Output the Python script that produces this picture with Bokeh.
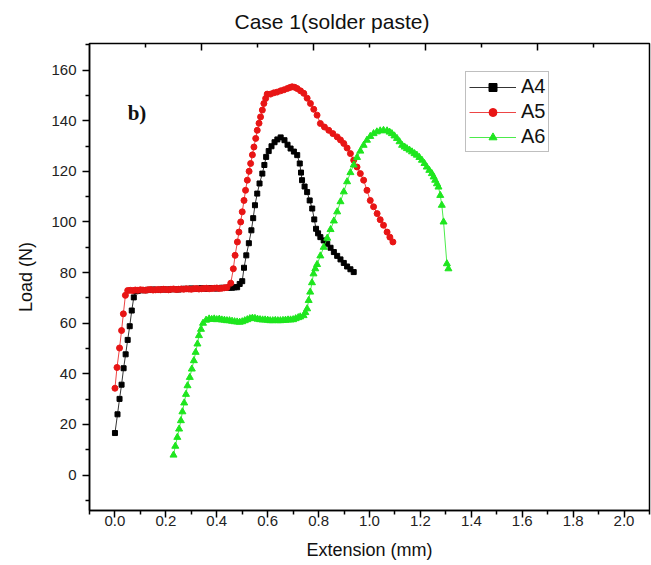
from bokeh.plotting import figure
from bokeh.models import (Range1d, FixedTicker, Legend, LegendItem,
                          Label, NumeralTickFormatter)
from bokeh.embed import file_html
from bokeh.resources import INLINE

# ---------------- data ----------------
A4_pts = [
    (0.000, 16.6), (0.010, 24.0), (0.018, 30.1), (0.026, 35.7), (0.034, 42.2),
    (0.042, 47.7), (0.050, 53.4), (0.058, 58.8), (0.066, 65.0), (0.074, 70.2),
    (0.082, 72.6),
    (0.09, 72.8), (0.10, 73.0), (0.11, 73.1), (0.12, 73.0), (0.13, 73.2),
    (0.14, 73.1), (0.15, 73.3), (0.16, 73.2), (0.17, 73.1), (0.18, 73.3),
    (0.19, 73.4), (0.20, 73.3), (0.21, 73.2), (0.22, 73.4), (0.23, 73.5),
    (0.24, 73.4), (0.25, 73.3), (0.26, 73.5), (0.27, 73.6), (0.28, 73.5),
    (0.29, 73.6), (0.30, 73.7), (0.31, 73.6), (0.32, 73.5), (0.33, 73.7),
    (0.34, 73.8), (0.35, 73.7), (0.36, 73.6), (0.37, 73.8), (0.38, 73.9),
    (0.39, 73.8), (0.40, 73.7), (0.41, 73.9), (0.42, 74.0), (0.43, 73.9),
    (0.44, 74.0), (0.45, 74.1), (0.46, 74.0), (0.47, 74.2), (0.48, 74.2),
    (0.490, 75.5), (0.500, 76.6), (0.507, 81.9), (0.516, 86.8), (0.526, 91.6),
    (0.536, 96.7), (0.543, 101.5), (0.550, 106.6), (0.559, 111.2), (0.568, 115.2),
    (0.579, 119.1), (0.587, 122.5), (0.594, 125.7), (0.604, 128.0), (0.615, 129.9),
    (0.627, 131.5), (0.638, 132.6), (0.651, 133.4), (0.666, 132.3), (0.678, 130.5),
    (0.690, 129.0), (0.703, 127.8), (0.716, 126.4), (0.726, 123.1), (0.731, 119.5),
    (0.735, 116.5), (0.745, 114.0), (0.755, 111.8), (0.765, 108.5), (0.775, 105.3),
    (0.783, 101.0), (0.790, 97.3), (0.798, 95.5), (0.807, 94.0), (0.820, 92.7),
    (0.834, 91.4), (0.847, 89.8), (0.860, 88.1), (0.873, 86.6), (0.886, 85.2),
    (0.899, 83.8), (0.912, 82.4), (0.925, 81.3), (0.938, 80.2),
]

A5_pts = [
    (0.000, 34.3), (0.008, 42.5), (0.018, 50.2), (0.026, 57.1), (0.033, 63.7),
    (0.041, 71.0), (0.050, 72.9),
    (0.06, 73.0), (0.07, 72.9), (0.08, 73.1), (0.09, 73.0), (0.10, 73.2),
    (0.11, 73.1), (0.12, 73.0), (0.13, 73.2), (0.14, 73.3), (0.15, 73.1),
    (0.16, 73.2), (0.17, 73.3), (0.18, 73.2), (0.19, 73.4), (0.20, 73.3),
    (0.21, 73.2), (0.22, 73.4), (0.23, 73.5), (0.24, 73.3), (0.25, 73.4),
    (0.26, 73.5), (0.27, 73.4), (0.28, 73.6), (0.29, 73.5), (0.30, 73.4),
    (0.31, 73.6), (0.32, 73.7), (0.33, 73.5), (0.34, 73.6), (0.35, 73.7),
    (0.36, 73.8), (0.37, 73.6), (0.38, 73.7), (0.39, 73.8), (0.40, 73.9),
    (0.41, 73.7), (0.42, 73.8), (0.43, 74.0), (0.44, 74.1),
    (0.455, 75.8), (0.465, 81.5), (0.472, 86.8), (0.481, 92.1), (0.487, 96.0),
    (0.494, 100.0), (0.500, 104.0), (0.507, 108.5), (0.513, 112.5), (0.520, 116.5),
    (0.527, 120.0), (0.533, 123.1), (0.540, 126.5), (0.546, 129.6), (0.553, 133.0),
    (0.559, 136.2), (0.566, 139.0), (0.572, 141.5), (0.579, 144.2), (0.585, 146.8),
    (0.592, 148.8), (0.598, 150.5), (0.611, 150.5), (0.624, 151.0), (0.637, 151.3),
    (0.651, 151.8), (0.664, 152.2), (0.677, 152.7), (0.687, 153.1), (0.696, 153.4),
    (0.706, 153.2), (0.716, 152.7), (0.729, 151.8), (0.742, 150.8), (0.755, 148.9),
    (0.768, 146.8), (0.781, 144.5), (0.794, 142.2), (0.807, 138.9), (0.823, 137.5),
    (0.840, 136.2), (0.856, 134.9), (0.873, 133.6), (0.886, 132.4), (0.899, 131.0),
    (0.912, 129.2), (0.925, 127.0), (0.938, 124.4), (0.951, 121.7), (0.964, 119.1),
    (0.977, 116.5), (0.990, 112.5), (1.003, 108.5), (1.016, 106.0), (1.030, 103.3),
    (1.042, 100.9), (1.055, 98.7), (1.069, 96.0), (1.080, 94.0), (1.092, 92.1),
]

A6_pts = [
    (0.230, 7.9), (0.237, 11.4), (0.245, 14.9), (0.252, 18.2), (0.259, 21.5),
    (0.265, 25.0), (0.272, 28.5), (0.279, 31.9), (0.285, 35.3), (0.294, 38.6),
    (0.302, 41.9), (0.310, 45.2), (0.317, 48.5), (0.324, 51.8), (0.330, 55.1),
    (0.338, 57.6), (0.346, 60.0), (0.358, 61.2), (0.370, 61.7),
    (0.38, 61.5), (0.39, 61.7), (0.40, 61.4), (0.41, 61.6), (0.42, 61.3),
    (0.43, 61.2), (0.44, 61.0), (0.45, 61.0), (0.46, 60.8), (0.47, 60.6),
    (0.48, 60.5), (0.49, 60.4), (0.50, 60.6), (0.51, 61.0), (0.52, 61.4),
    (0.53, 61.8), (0.54, 62.0), (0.55, 61.9), (0.56, 61.6), (0.57, 61.4),
    (0.58, 61.3), (0.59, 61.3), (0.60, 61.2), (0.61, 61.0), (0.62, 61.0),
    (0.63, 61.1), (0.64, 61.0), (0.65, 61.0), (0.66, 61.1), (0.67, 61.2),
    (0.68, 61.3), (0.69, 61.3), (0.70, 61.4), (0.71, 61.8), (0.72, 62.2),
    (0.728, 62.5), (0.741, 63.0), (0.748, 64.2), (0.755, 65.7), (0.761, 69.0),
    (0.767, 72.3), (0.774, 76.0), (0.780, 79.5), (0.787, 81.5), (0.794, 83.2),
    (0.807, 86.6), (0.820, 90.0), (0.834, 93.6), (0.847, 97.0), (0.860, 100.4),
    (0.873, 104.0), (0.886, 108.0), (0.899, 111.9), (0.912, 115.9), (0.925, 119.5),
    (0.938, 122.5), (0.951, 125.5), (0.964, 128.0), (0.977, 130.3), (0.990, 132.3),
    (1.003, 133.8), (1.016, 134.9), (1.029, 135.6), (1.042, 136.0), (1.055, 136.2),
    (1.069, 136.0), (1.079, 135.5), (1.088, 134.9), (1.098, 134.0), (1.108, 133.0),
    (1.118, 131.7), (1.128, 130.3), (1.138, 129.6), (1.147, 129.0), (1.157, 128.4),
    (1.167, 127.7), (1.177, 127.0), (1.186, 126.4), (1.196, 125.5), (1.206, 124.4),
    (1.216, 123.1), (1.225, 121.7), (1.235, 120.4), (1.245, 119.1), (1.252, 117.8),
    (1.258, 116.5), (1.265, 115.1), (1.271, 113.8), (1.278, 110.5), (1.284, 106.6),
    (1.291, 100.0), (1.304, 83.5), (1.310, 81.5),
]

A4_x, A4_y = [q[0] for q in A4_pts], [q[1] for q in A4_pts]
A5_x, A5_y = [q[0] for q in A5_pts], [q[1] for q in A5_pts]
A6_x, A6_y = [q[0] for q in A6_pts], [q[1] for q in A6_pts]

series_names = ["A4", "A5", "A6"]
x_ticks = [0.0, 0.2, 0.4, 0.6, 0.8, 1.0, 1.2, 1.4, 1.6, 1.8, 2.0]
x_minor = [-0.1, 0.1, 0.3, 0.5, 0.7, 0.9, 1.1, 1.3, 1.5, 1.7, 1.9, 2.1]
y_ticks = [0, 20, 40, 60, 80, 100, 120, 140, 160]
y_minor = [-10, 10, 30, 50, 70, 90, 110, 130, 150, 170]
# the top frame edge carries its own (unlabelled) tick scale 0..5
top_major = [1, 2, 3, 4]
top_minor = [0.5, 1.5, 2.5, 3.5, 4.5]

FONT = "Liberation Sans"
X0, X1 = -0.1, 2.1
Y0, Y1 = -14, 170.5
FRAME_H = 467

# ---------------- figure ----------------
p = figure(width=651, height=565, output_backend="svg", toolbar_location=None,
           x_range=Range1d(X0, X1), y_range=Range1d(Y0, Y1),
           min_border_left=89, min_border_right=2, min_border_top=43,
           min_border_bottom=55)
p.xgrid.visible = False
p.ygrid.visible = False
p.outline_line_color = "black"
p.outline_line_width = 1.5
p.background_fill_color = "white"
p.border_fill_color = "white"

p.title.text = "Case 1(solder paste)"
p.title.align = "left"
p.title.offset = 145
p.title.vertical_align = "top"
p.title.standoff = 18
p.title.text_font = FONT
p.title.text_font_size = "21px"
p.title.text_font_style = "normal"
p.title.text_color = "#111111"

xa = p.xaxis[0]
xa.ticker = FixedTicker(ticks=x_ticks, minor_ticks=x_minor)
xa.formatter = NumeralTickFormatter(format="0.0")
xa.axis_label = "Extension (mm)"
ya = p.yaxis[0]
ya.ticker = FixedTicker(ticks=y_ticks, minor_ticks=y_minor)
ya.axis_label = "Load (N)"

for ax in (xa, ya):
    ax.axis_line_width = 1.5
    ax.axis_line_color = "black"
    ax.major_tick_line_width = 1.5
    ax.minor_tick_line_width = 1.5
    ax.major_tick_line_color = "black"
    ax.minor_tick_line_color = "black"
    ax.major_tick_in = 0
    ax.minor_tick_in = 0
    ax.major_tick_out = 7
    ax.minor_tick_out = 4
    ax.major_label_text_font = FONT
    ax.major_label_text_font_size = "15px"
    ax.major_label_text_color = "#222222"
    ax.axis_label_text_font = FONT
    ax.axis_label_text_font_size = "18px"
    ax.axis_label_text_font_style = "normal"
    ax.axis_label_text_color = "#111111"

xa.major_label_standoff = -2
xa.axis_label_standoff = 11
ya.major_label_standoff = 6
ya.axis_label_standoff = 12

# inward ticks on the top edge
p.extra_x_ranges = {"top": Range1d(0, 5)}
px_per_y = FRAME_H / (Y1 - Y0)
p.segment(x0=top_major, x1=top_major, y0=[Y1] * len(top_major),
          y1=[Y1 - 7 / px_per_y] * len(top_major), x_range_name="top",
          line_color="black", line_width=1.5)
p.segment(x0=top_minor, x1=top_minor, y0=[Y1] * len(top_minor),
          y1=[Y1 - 4 / px_per_y] * len(top_minor), x_range_name="top",
          line_color="black", line_width=1.5)

# ---------------- series ----------------
colors = ["black", "#e81515", "#1ee61e"]
markers = ["square", "circle", "triangle"]
sizes = [5, 6, 7]
data = [(A4_x, A4_y), (A5_x, A5_y), (A6_x, A6_y)]

items = []
for name, (xs, ys), c, m, s in zip(series_names, data, colors, markers, sizes):
    ln = p.line(xs, ys, line_color=c, line_width=0.8)
    sc = p.scatter(xs, ys, marker=m, size=s, fill_color=c, line_color=c)
    items.append(LegendItem(label=name, renderers=[ln, sc]))

legend = Legend(items=items, location=(376, 358), orientation="vertical",
                border_line_color="#808080", border_line_width=1.2,
                background_fill_color="white", background_fill_alpha=1,
                padding=3, spacing=2, margin=0,
                glyph_width=47, glyph_height=20, label_height=20,
                label_standoff=5, label_text_font=FONT,
                label_text_font_size="20px", label_text_color="#111111")
p.add_layout(legend)

p.add_layout(Label(x=0.05, y=143, text="b)", text_font="Liberation Serif",
                   text_font_style="bold", text_font_size="21px",
                   text_baseline="middle", text_color="#111111"))

open("out.html", "w").write(file_html(p, INLINE))
